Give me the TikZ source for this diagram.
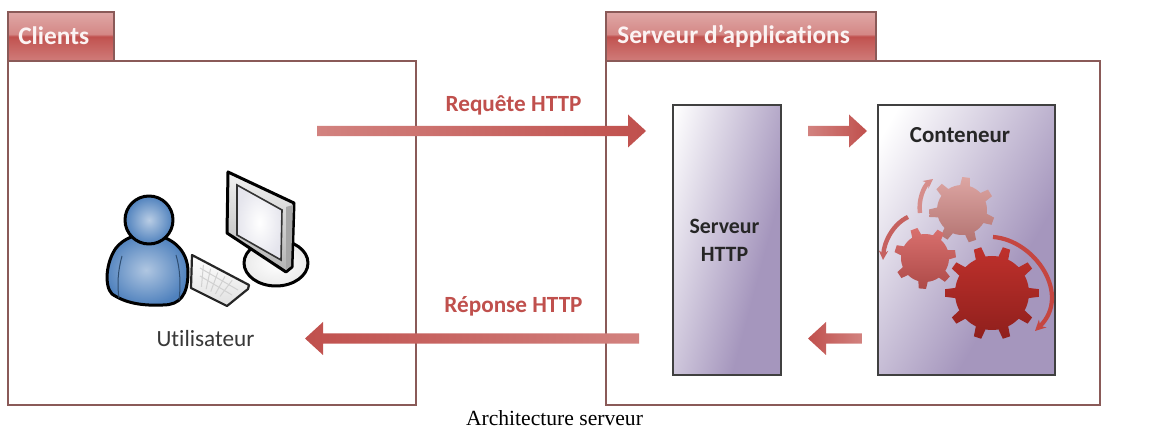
\documentclass[tikz,border=0pt]{standalone}
\usepackage{fontspec}
\setmainfont[Ligatures=NoCommon]{Carlito}
\newfontfamily\capfont{Liberation Serif}
\usetikzlibrary{calc,arrows.meta}
\definecolor{rust}{HTML}{C0504D}
\definecolor{rustlight}{HTML}{D2827F}
\definecolor{edge}{HTML}{8A5A58}
\definecolor{violet}{HTML}{A596BD}
\definecolor{skin}{HTML}{4F81BD}
\definecolor{gearAtop}{HTML}{DDA6A3}
\definecolor{gearAbot}{HTML}{B37371}
\definecolor{gearBtop}{HTML}{D9706E}
\definecolor{gearBbot}{HTML}{AD4A48}
\definecolor{gearCtop}{HTML}{BF312C}
\definecolor{gearCbot}{HTML}{8F1F1C}
\pgfdeclareverticalshading{tabshade}{100bp}{
  color(0bp)=(rust!75!white);
  color(25bp)=(rust!75!white);
  color(46bp)=(rust!95!white);
  color(50bp)=(rust);
  color(52.5bp)=(rust!68!white);
  color(75bp)=(rust!50!white);
  color(100bp)=(rust!50!white)}
\pgfdeclareverticalshading{boxshade}{100bp}{
  color(0bp)=(violet);
  color(36bp)=(violet);
  color(80bp)=(white);
  color(100bp)=(white)}
\newcommand{\px}[1]{#1*0.75pt}
\newcommand{\rarrow}[3]{%
  \shade[left color=#3, right color=rust]
    ($(#1)+(0,-5.2)$) -- ($(#2)+(-18,-5.2)$) -- ($(#2)+(-18,-16.5)$) -- (#2)
    -- ($(#2)+(-18,16.5)$) -- ($(#2)+(-18,5.2)$) -- ($(#1)+(0,5.2)$) -- cycle;}
\newcommand{\larrow}[3]{%
  \shade[right color=#3, left color=rust]
    ($(#1)+(0,-5.2)$) -- ($(#2)+(18,-5.2)$) -- ($(#2)+(18,-16.5)$) -- (#2)
    -- ($(#2)+(18,16.5)$) -- ($(#2)+(18,5.2)$) -- ($(#1)+(0,5.2)$) -- cycle;}
% center, R, r, n, rot, top colour, bottom colour
\newcommand{\gear}[7]{%
  \begin{scope}[shift={(#1)}]
  \pgfmathsetmacro{\st}{360/#4}
  \shade[top color=#6, bottom color=#7] (#5-\st*0.22:#3)
   \foreach \k in {1,...,#4}{
     -- ({#5+(\k-1)*\st-\st*0.13}:#2) -- ({#5+(\k-1)*\st+\st*0.13}:#2)
     -- ({#5+(\k-1)*\st+\st*0.22}:#3) arc[start angle={#5+(\k-1)*\st+\st*0.22}, delta angle={\st*0.56}, radius=#3]
   } -- cycle;
  \end{scope}}
\tikzset{
  panel/.style={draw=edge, fill=white, line width=\px{1.3}, inner sep=0pt},
  tabbox/.style={draw=edge, shading=tabshade, line width=\px{1.3}, inner sep=0pt},
  tabtext/.style={font=\fontsize{19pt}{21pt}\selectfont\bfseries, text=white!93!rust, inner sep=0pt},
  flowtext/.style={font=\fontsize{17.4pt}{20pt}\selectfont\bfseries, text=rust, inner sep=0pt},
  purplebox/.style={draw=black!75, line width=\px{1.5}, shade, shading=boxshade, inner sep=0pt, align=center},
  boxtext/.style={font=\fontsize{17.2pt}{20pt}\selectfont\bfseries, text=black!85, inner sep=0pt, align=center},
  outline/.style={draw=black, line width=\px{3}, line join=round},
}
\begin{document}
\begin{tikzpicture}[x=0.75pt,y=-0.75pt]
\useasboundingbox (0,0) rectangle (1161,445);
\fill[white] (0,0) rectangle (1161,445);
% panels
\node[panel, minimum width={\px{408}}, minimum height={\px{344}}] (clients) at (212,233) {};
\node[panel, minimum width={\px{494}}, minimum height={\px{344}}] (server) at (853,233) {};
\node[tabbox, minimum width={\px{106}}, minimum height={\px{49}}] (clientstab) at (61,36.5) {};
\node[tabbox, minimum width={\px{270}}, minimum height={\px{49}}] (servertab) at (741,36.5) {};
\node[tabtext, anchor=west] (clientslabel) at (18,36) {Clients};
\node[tabtext, anchor=west] (serverlabel) at (617,36) {Serveur d’applications};
% boxes
\node[purplebox, shading angle=75, minimum width={\px{108}}, minimum height={\px{270}}] (http) at (727,240) {};
\node[purplebox, shading angle=60, minimum width={\px{177}}, minimum height={\px{270}}] (cont) at (966.5,240) {};
\node[boxtext, font=\fontsize{16.4pt}{20pt}\selectfont\bfseries] (httplabel) at (724.5,240) {Serveur\\[1pt]HTTP};
\node[boxtext] (contlabel) at (960,135) {Conteneur};
% flow arrows
\coordinate (reqa) at (317,131);
\coordinate (reqb) at (646,131);
\coordinate (inna) at (808,131);
\coordinate (innb) at (867,131);
\coordinate (repa) at (639,338.5);
\coordinate (repb) at (305,338.5);
\coordinate (outa) at (862,338.5);
\coordinate (outb) at (808,338.5);
\rarrow{reqa}{reqb}{rustlight}
\rarrow{inna}{innb}{rustlight}
\larrow{repa}{repb}{rustlight}
\larrow{outa}{outb}{rustlight}
\node[flowtext] (reqlabel) at (513.5,105) {Requête HTTP};
\node[flowtext] (replabel) at (513.5,306) {Réponse HTTP};
% gears
\gear{962,210}{33}{25}{7}{20}{gearAtop}{gearAbot}
\gear{925,258}{31}{24}{7}{-8}{gearBtop}{gearBbot}
\gear{992,293}{47}{37}{10}{0}{gearCtop}{gearCbot}
% gear rotation arrows
\coordinate (a1s) at (993,237);
\coordinate (a1e) at (1035,331);
\coordinate (a2s) at (908,217);
\coordinate (a2e) at (883,260);
\coordinate (a3s) at (920,213);
\coordinate (a3e) at (933,179);
\draw[draw=gearCtop!90!white, line width=\px{4.2}, -{Stealth[length=8pt,width=8pt]}] (a1s) .. controls (1035,240) and (1072,295) .. (a1e);
\draw[draw=rust!90!white, line width=\px{4.4}, -{Stealth[length=7pt,width=7pt]}] (a2s) .. controls (893,224) and (884,242) .. (a2e);
\draw[draw=rust!65!white, line width=\px{4.4}, -{Stealth[length=7pt,width=7pt]}] (a3s) .. controls (918,200) and (924,186) .. (a3e);
% monitor base
\shade[outline, inner color=white, outer color=black!8] (276,263) circle[x radius=32, y radius=23];
% monitor
\shade[outline, top color=black!5, bottom color=black!30] (228,172) -- (294,203) -- (292,267) -- (286,272) -- (227,233) -- cycle;
\fill[black!35] (286,207) -- (293,205) -- (291,266) -- (286,270) -- cycle;
\shade[draw=black!80, line width=\px{1.6}, inner color=white, outer color=blue!30!black!10!white] (237,185) -- (282,210) -- (281,260) -- (237,235) -- cycle;
% keyboard
\shade[draw=black!85, line width=\px{2.2}, line join=round, top color=white, bottom color=black!12] (192,255) -- (249,285) -- (248,289) -- (227,306) -- (191,288) -- cycle;
\foreach \t in {0.12,0.28,0.44,0.60,0.76}{
  \draw[black!18, line width=\px{1}] ($(198,262)!\t!(243,286)$) -- ($(198,285)!\t!(227,300)$);
}
\draw[black!18, line width=\px{1}] (200,268) -- (238,290);
\draw[black!18, line width=\px{1}] (200,276) -- (232,295);
% person
\shade[outline, inner color=skin!45!white, outer color=skin] (149,234)
  .. controls (172,236) and (188,250) .. (188,272)
  .. controls (188,295) and (180,305) .. (163,305)
  .. controls (142,306) and (125,303) .. (112,294)
  .. controls (104,286) and (106,262) .. (116,248)
  .. controls (124,238) and (136,234) .. (149,234) -- cycle;
\draw[skin!60!black, line width=\px{1}] (122,256) .. controls (118,270) and (117,285) .. (119,298);
\draw[skin!60!black, line width=\px{1}] (176,255) .. controls (180,268) and (181,285) .. (179,300);
\shade[outline, inner color=skin!40!white, outer color=skin] (149,220) circle[x radius=24, y radius=24];
% texts
\node[font=\fontsize{17.4pt}{20pt}\selectfont, text=black!78, inner sep=0pt] (userlabel) at (205.5,339) {Utilisateur};
\node[font=\capfont\fontsize{16.2pt}{18pt}\selectfont, text=black, inner sep=0pt] (caption) at (554.5,418) {Architecture serveur};
\end{tikzpicture}
\end{document}
